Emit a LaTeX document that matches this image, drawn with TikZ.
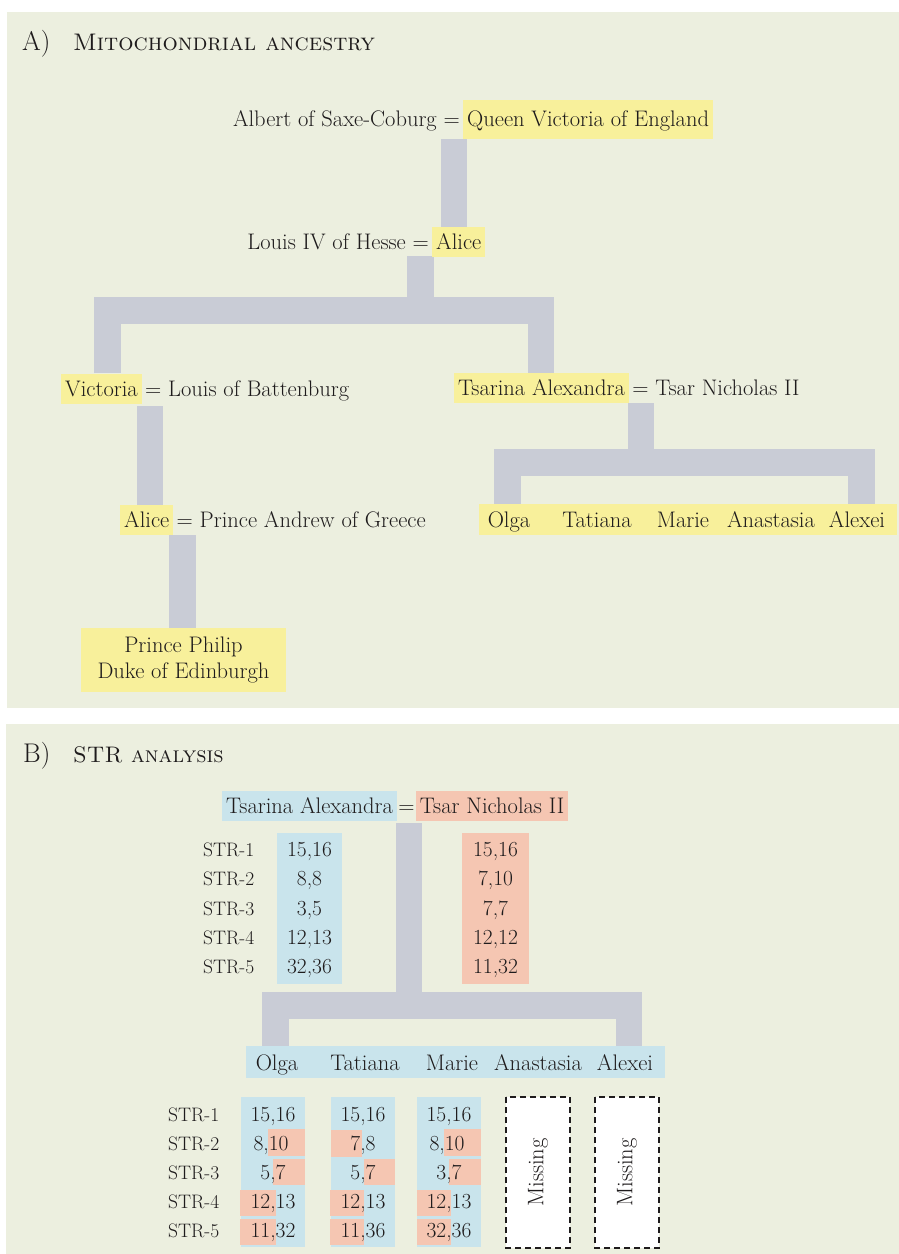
\documentclass[tikz,border=0pt]{standalone}
\usepackage{tikz}
\usetikzlibrary{positioning}
\definecolor{panelbg}{HTML}{ECEFDF}
\definecolor{hlyel}{HTML}{F8F09B}
\definecolor{barg}{HTML}{C9CCD6}
\definecolor{cblue}{HTML}{C9E4EC}
\definecolor{csalm}{HTML}{F5C6B2}
\definecolor{ink}{HTML}{1E1B1C}
\tikzset{
  txt/.style={text=ink,font=\fontsize{22.5}{26}\selectfont,inner sep=0pt},
  num/.style={txt,anchor=base,font=\fontsize{21.5}{26}\selectfont},
  lbl/.style={txt,anchor=base west,font=\fontsize{19.5}{24}\selectfont},
  hl/.style={txt,fill=hlyel,inner xsep=4pt,inner ysep=4pt,text height=18pt,text depth=4pt},
  hlb/.style={hl,fill=cblue},
  hls/.style={hl,fill=csalm},
  bar/.style={barg,line width=26.5pt,line join=miter},
  miss/.style={draw=ink,fill=white,dash pattern=on 6pt off 4pt,line width=1.4pt},
  ttl/.style={txt,anchor=base west,font=\fontsize{24}{28}\selectfont},
}

\begin{document}
\begin{tikzpicture}[x=1pt,y=-1pt]
  \useasboundingbox (0,0) rectangle (899,1254);
  \fill[panelbg] (7,12) rectangle (899,708);
  \fill[panelbg] (6,724) rectangle (899,1254);

  % A) mitochondrial ancestry
  \node[ttl,font=\fontsize{27}{30}\selectfont] (tA) at (22,50) {A)};
  \node[ttl] (tAtxt) at (73,50) {\textsc{Mitochondrial ancestry}};
  \draw[bar] (454,139) -- (454,227);
  \draw[bar] (420.5,256) -- (420.5,311);
  \draw[bar] (107.5,373) -- (107.5,310.5) -- (541,310.5) -- (541,373);
  \draw[bar] (150,406) -- (150,506);
  \draw[bar] (182.5,535) -- (182.5,628);
  \draw[bar] (641,403) -- (641,463);
  \draw[bar] (507.5,504) -- (507.5,462.5) -- (861.5,462.5) -- (861.5,504);
  \node[hl,anchor=base west,text height=22pt,text depth=9pt] (qvic) at (463,126) {Queen Victoria of England\hspace{3pt}};
  \node[txt,anchor=base east] (albert) at ([xshift=-3pt]qvic.base west) {Albert of Saxe-Coburg =};
  \node[hl,anchor=base west] (alice) at (432,249) {Alice\hspace{8pt}};
  \node[txt,anchor=base east] (louis) at ([xshift=-3pt]alice.base west) {Louis IV of Hesse =};
  \node[hl,anchor=base west] (vic) at (61,396) {Victoria};
  \node[txt,anchor=base west] (battb) at ([xshift=3pt]vic.base east) {= Louis of Battenburg};
  \node[hl,anchor=base west] (tsarina) at (454,395) {Tsarina Alexandra};
  \node[txt,anchor=base west] (nich) at ([xshift=3pt]tsarina.base east) {= Tsar Nicholas II};
  \node[hl,anchor=base west] (alice2) at (120,527) {Alice};
  \node[txt,anchor=base west] (andrew) at ([xshift=3pt]alice2.base east) {= Prince Andrew of Greece};
  \node[txt,fill=hlyel,minimum width=205pt,minimum height=64pt,align=center] (philip) at (183.5,660) {Prince Philip\\Duke of Edinburgh};
  \fill[hlyel] (479,504) rectangle (897,535);
  \node[txt,anchor=base] (olga) at (509,527) {Olga};
  \node[txt,anchor=base] (tatiana) at (597,527) {Tatiana};
  \node[txt,anchor=base] (marie) at (683,527) {Marie};
  \node[txt,anchor=base] (anast) at (771,527) {Anastasia};
  \node[txt,anchor=base] (alexei) at (857,527) {Alexei};

  % B) STR analysis
  \node[ttl,font=\fontsize{27}{30}\selectfont] (tB) at (23,762) {B)};
  \node[ttl,font=\fontsize{22.5}{28}\selectfont] (tBtxt) at (73,762) {\textsc{STR analysis}};
  \draw[bar] (409,823) -- (409,1006);
  \draw[bar] (275.5,1047) -- (275.5,1005.5) -- (629,1005.5) -- (629,1047);
  \node[hlb,anchor=base west] (bTsar) at (222,813) {Tsarina Alexandra};
  \node[txt,anchor=base west,inner xsep=1pt] (bEq) at (bTsar.base east) {=};
  \node[hls,anchor=base west] (bNich) at (bEq.base east) {Tsar Nicholas II};

  \fill[cblue] (277,833) rectangle (342,984);
  \fill[csalm] (462,833) rectangle (529,984);
  \node[lbl] (pl1) at (203,856) {STR-1};
  \node[lbl] (pl2) at (203,885) {STR-2};
  \node[lbl] (pl3) at (203,915) {STR-3};
  \node[lbl] (pl4) at (203,944) {STR-4};
  \node[lbl] (pl5) at (203,973) {STR-5};
  \node[num] (m1) at (309.5,856) {15,16};
  \node[num] (m2) at (309.5,885) {8,8};
  \node[num] (m3) at (309.5,915) {3,5};
  \node[num] (m4) at (309.5,944) {12,13};
  \node[num] (m5) at (309.5,973) {32,36};
  \node[num] (f1) at (495.5,856) {15,16};
  \node[num] (f2) at (495.5,885) {7,10};
  \node[num] (f3) at (495.5,915) {7,7};
  \node[num] (f4) at (495.5,944) {12,12};
  \node[num] (f5) at (495.5,973) {11,32};

  \fill[cblue] (246,1046) rectangle (665,1078);
  \node[txt,anchor=base] (bOlga) at (277,1070) {Olga};
  \node[txt,anchor=base] (bTat) at (365,1070) {Tatiana};
  \node[txt,anchor=base] (bMarie) at (452,1070) {Marie};
  \node[txt,anchor=base] (bAna) at (538,1070) {Anastasia};
  \node[txt,anchor=base] (bAlex) at (625,1070) {Alexei};

  \fill[cblue] (241,1097) rectangle (305,1247);
  \fill[cblue] (331,1097) rectangle (395,1247);
  \fill[cblue] (417,1097) rectangle (481,1247);
  \fill[csalm] (268,1129) rectangle (305,1156);
  \fill[csalm] (273,1159) rectangle (305,1185);
  \fill[csalm] (240,1190) rectangle (276,1216);
  \fill[csalm] (240,1219) rectangle (276,1245);
  \fill[csalm] (331,1130) rectangle (362,1157);
  \fill[csalm] (364,1159) rectangle (395,1185);
  \fill[csalm] (330,1190) rectangle (364,1216);
  \fill[csalm] (330,1219) rectangle (364,1245);
  \fill[csalm] (444,1129) rectangle (481,1156);
  \fill[csalm] (449,1159) rectangle (481,1185);
  \fill[csalm] (417,1190) rectangle (451,1216);
  \fill[csalm] (417,1219) rectangle (451,1245);
  \node[lbl] (cl1) at (168,1121) {STR-1};
  \node[lbl] (cl2) at (168,1150) {STR-2};
  \node[lbl] (cl3) at (168,1179) {STR-3};
  \node[lbl] (cl4) at (168,1208) {STR-4};
  \node[lbl] (cl5) at (168,1237) {STR-5};
  \node[num] (o1) at (273,1121) {15,16};
  \node[num] (o2) at (271,1150) {8,10};
  \node[num] (o3) at (273,1179) {5,7};
  \node[num] (o4) at (273,1208) {12,13};
  \node[num] (o5) at (273,1237) {11,32};
  \node[num] (t1) at (363,1121) {15,16};
  \node[num] (t2) at (363,1150) {7,8};
  \node[num] (t3) at (363,1179) {5,7};
  \node[num] (t4) at (363,1208) {12,13};
  \node[num] (t5) at (363,1237) {11,36};
  \node[num] (r1) at (449,1121) {15,16};
  \node[num] (r2) at (447,1150) {8,10};
  \node[num] (r3) at (449,1179) {3,7};
  \node[num] (r4) at (449,1208) {12,13};
  \node[num] (r5) at (449,1237) {32,36};
  \draw[miss] (506,1097) rectangle (570,1248);
  \draw[miss] (595,1097) rectangle (659,1248);
  \node[txt,rotate=90] (mAna) at (538,1172.5) {Missing};
  \node[txt,rotate=90] (mAlex) at (627,1172.5) {Missing};
\end{tikzpicture}
\end{document}
